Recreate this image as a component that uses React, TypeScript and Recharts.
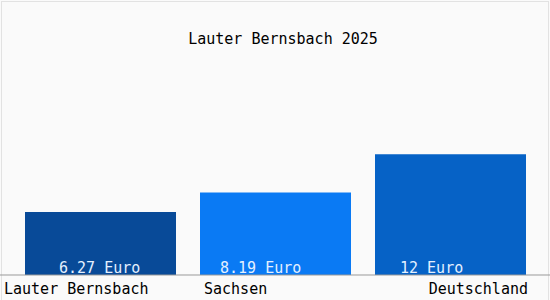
import React from "react";
import { BarChart, Bar, XAxis, YAxis, Cell, LabelList } from "recharts";

const categories = ["Lauter Bernsbach", "Sachsen", "Deutschland"];
const values = [6.27, 8.19, 12];
const valueLabels = ["6.27 Euro", "8.19 Euro", "12 Euro"];
const barColors = ["#084a98", "#0a7af4", "#0662c6"];
const title = "Lauter Bernsbach 2025";

const data = categories.map((name, i) => ({ name, value: values[i], label: valueLabels[i] }));

const FONT = "'DejaVu Sans Mono', monospace";

const CategoryTick = (props: any) => {
  const { x, y, payload, index } = props;
  const half = 75.5;
  let tx = x - half + 4;
  let anchor: "start" | "end" = "start";
  if (index === 0) {
    tx = 4;
  } else if (index === categories.length - 1) {
    tx = x + half + 2;
    anchor = "end";
  }
  return (
    <text x={tx} y={y + 11} textAnchor={anchor} fontFamily={FONT} fontSize={15} fill="#000">
      {payload.value}
    </text>
  );
};

const ValueLabel = (props: any) => {
  const { x, y, height, value, index } = props;
  const offs = [34, 20, 25];
  return (
    <text x={x + offs[index]} y={y + height - 2} fontFamily={FONT} fontSize={15} fill="#e4f0ff">
      {value}
    </text>
  );
};

export default function App() {
  return (
    <div style={{ position: "absolute", left: 0, top: 0, width: 550, height: 300, background: "#fafafa" }}>
      <div
        style={{
          position: "absolute",
          left: 1,
          top: 1,
          width: 546,
          height: 300,
          borderLeft: "1px solid #e2e2e2",
          borderTop: "1px solid #e2e2e2",
          borderRight: "1px solid #e2e2e2",
        }}
      />
      <div
        style={{
          position: "absolute",
          left: 8,
          top: 30,
          width: 550,
          textAlign: "center",
          fontFamily: FONT,
          fontSize: 15,
          color: "#000",
        }}
      >
        {title}
      </div>
      <div style={{ position: "absolute", left: 0, top: 0 }}>
        <BarChart width={550} height={300} data={data} margin={{ top: 124, right: 0, bottom: 0, left: 0 }} barSize={151}>
          <XAxis
            dataKey="name"
            axisLine={{ stroke: "#999999" }}
            tickLine={false}
            padding={{ left: 13, right: 12 }}
            tick={<CategoryTick />}
            interval={0}
            height={25}
          />
          <YAxis hide domain={[0, 15]} />
          <Bar dataKey="value" isAnimationActive={false}>
            {data.map((d, i) => (
              <Cell key={d.name} fill={barColors[i]} />
            ))}
            <LabelList dataKey="label" content={<ValueLabel />} />
          </Bar>
        </BarChart>
      </div>
    </div>
  );
}
